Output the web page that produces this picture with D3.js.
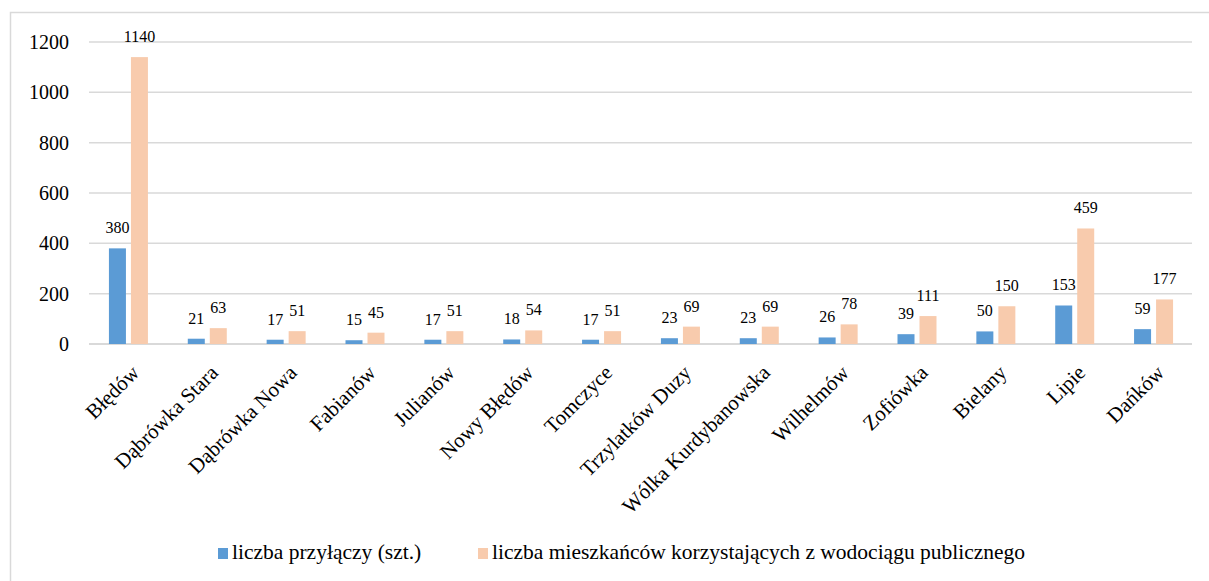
<!DOCTYPE html>
<html>
<head>
<meta charset="utf-8">
<script src="https://cdn.jsdelivr.net/npm/d3@7"></script>
</head>
<body style="margin:0;background:#fff">
<script>
const categories = ["Błędów", "Dąbrówka Stara", "Dąbrówka Nowa", "Fabianów", "Julianów", "Nowy Błędów",
  "Tomczyce", "Trzylatków Duzy", "Wólka Kurdybanowska", "Wilhelmów", "Zofiówka", "Bielany", "Lipie", "Dańków"];
const przylacza = [380, 21, 17, 15, 17, 18, 17, 23, 23, 26, 39, 50, 153, 59];
const mieszkancy = [1140, 63, 51, 45, 51, 54, 51, 69, 69, 78, 111, 150, 459, 177];
const yTicks = [0, 200, 400, 600, 800, 1000, 1200];
const seriesNames = ["liczba przyłączy (szt.)", "liczba mieszkańców korzystających z wodociągu publicznego"];
const colors = ["#5B9BD5", "#F8CBAD"];

const FONT = "Times New Roman";
const width = 1209, height = 581;
const margin = { top: 42, left: 89 };

const svg = d3.select("body").append("svg")
    .attr("width", width)
    .attr("height", height)
    .attr("font-family", FONT);

// outer frame
svg.append("rect")
    .attr("x", 10.5).attr("y", 12.5)
    .attr("width", width).attr("height", height)
    .attr("fill", "none")
    .attr("stroke", "#d9d9d9")
    .attr("stroke-width", 1.5);

const x = d3.scaleBand()
    .domain(categories)
    .range([margin.left, 1193]);

const y = d3.scaleLinear()
    .domain([0, 1200])
    .range([344, margin.top]);

const barW = 17, gap = 5;

// gridlines
svg.append("g")
    .selectAll("line")
    .data(yTicks)
    .join("line")
    .attr("x1", margin.left)
    .attr("x2", 1192)
    .attr("y1", d => y(d))
    .attr("y2", d => y(d))
    .attr("stroke", "#d9d9d9")
    .attr("stroke-width", d => d === 0 ? 2 : 1.5);

// y axis labels
svg.append("g")
    .attr("transform", `translate(${margin.left - 20},0)`)
    .call(d3.axisLeft(y).tickValues(yTicks).tickFormat(d3.format("d")).tickSize(0).tickPadding(0))
    .call(g => g.attr("font-family", null).attr("font-size", 20))
    .call(g => g.select(".domain").remove())
    .call(g => g.selectAll("text").attr("fill", "#000"));

const series = [przylacza, mieszkancy];
series.forEach((vals, s) => {
  const offset = s === 0 ? -(barW + gap / 2) : gap / 2;
  const g = svg.append("g");
  g.selectAll("rect")
    .data(vals)
    .join("rect")
    .attr("x", (d, i) => x(categories[i]) + x.bandwidth() / 2 + offset)
    .attr("y", d => y(d))
    .attr("width", barW)
    .attr("height", d => y(0) - y(d))
    .attr("fill", colors[s]);
  g.selectAll("text")
    .data(vals)
    .join("text")
    .attr("x", (d, i) => x(categories[i]) + x.bandwidth() / 2 + offset + barW / 2)
    .attr("y", d => y(d) - 15)
    .attr("text-anchor", "middle")
    .attr("font-size", 16)
    .attr("fill", "#000")
    .text(d => d);
});

// x axis labels
svg.append("g")
    .attr("transform", `translate(0,${y(0)})`)
    .call(d3.axisBottom(x).tickSize(0).tickPadding(0))
    .call(g => g.attr("font-family", null).attr("font-size", 21))
    .call(g => g.select(".domain").remove())
    .call(g => g.selectAll("text")
        .attr("fill", "#000")
        .attr("text-anchor", "end")
        .attr("dy", 0)
        .attr("transform", "translate(12,30) rotate(-45)"));

// legend
const legend = svg.append("g").attr("transform", "translate(0,559)");
const legendX = [218, 478];
seriesNames.forEach((name, i) => {
  legend.append("rect")
    .attr("x", legendX[i]).attr("y", -11)
    .attr("width", 10).attr("height", 11)
    .attr("fill", colors[i]);
  legend.append("text")
    .attr("x", legendX[i] + 14).attr("y", 0)
    .attr("font-size", 21.5)
    .attr("fill", "#000")
    .text(name);
});
</script>
</body>
</html>
